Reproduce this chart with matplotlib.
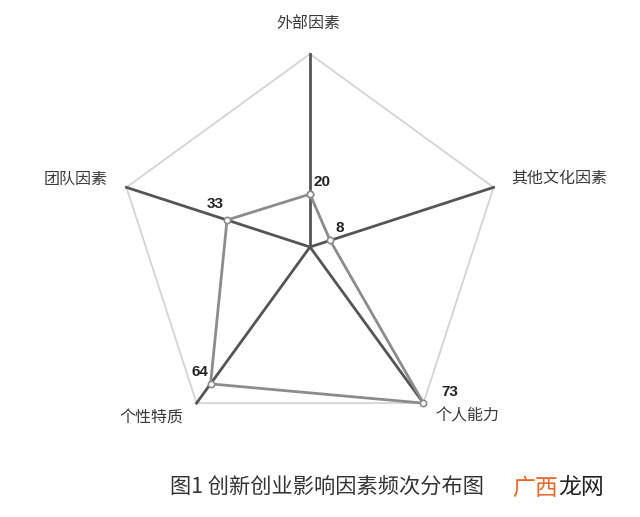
import numpy as np
import matplotlib
matplotlib.use("Agg")
import matplotlib.pyplot as plt

plt.rcParams['font.family'] = ['Noto Sans CJK SC', 'DejaVu Sans']

categories = ["外部因素", "其他文化因素", "个人能力", "个性特质", "团队因素"]
values = [20, 8, 73, 64, 33]
caption = "图1 创新创业影响因素频次分布图"
wm_orange = "广西"
wm_dark = "龙网"

n = len(categories)
angles = np.arange(n) * 2 * np.pi / n
rmax = max(values)

fig = plt.figure(figsize=(6.4, 5.17), dpi=100)
fig.patch.set_facecolor("white")
ax = fig.add_axes([117/640, 77/517, 386/640, 386/517], projection="polar")
ax.set_theta_zero_location("N")
ax.set_theta_direction(-1)
ax.set_ylim(0, rmax)
ax.set_axis_off()

# outer pentagon
ang_c = np.append(angles, angles[0])
ax.plot(ang_c, [rmax] * (n + 1), color="#d4d4d4", lw=1.3, clip_on=False, zorder=1)

# spokes
for a in angles:
    ax.plot([a, a], [0, rmax], color="#555555", lw=2.0, clip_on=False, zorder=2)

# data polygon
vals_c = values + values[:1]
ax.plot(ang_c, vals_c, color="#8c8c8c", lw=2.0, clip_on=False, zorder=3,
        marker="o", markersize=4.5, markerfacecolor="white",
        markeredgecolor="#8c8c8c", markeredgewidth=1.2)

# category labels (offsets in pixels relative to outer vertices)
cat_off = [(-2, 31, "center", "center"),
           (18, 8, "left", "center"),
           (12, -13, "left", "center"),
           (-13, -15, "right", "center"),
           (-19, 8, "right", "center")]
for a, lab, (dx, dy, ha, va) in zip(angles, categories, cat_off):
    ax.annotate(lab, xy=(a, rmax), xytext=(dx, dy), textcoords="offset pixels",
                ha=ha, va=va, fontsize=11.5, fontweight="medium", color="#3a3a3a",
                annotation_clip=False)

# value labels
val_off = [(4, 12, "left", "center"),
           (5, 12, "left", "center"),
           (18, 11, "left", "center"),
           (-2, 12, "right", "center"),
           (-3, 16, "right", "center")]
for a, v, (dx, dy, ha, va) in zip(angles, values, val_off):
    ax.annotate(str(v), xy=(a, v), xytext=(dx, dy), textcoords="offset pixels",
                ha=ha, va=va, fontsize=11, fontweight="bold", color="#222222",
                family=["Liberation Sans", "DejaVu Sans"], annotation_clip=False)

# caption and watermark
fig.text(170/640, 1 - 488/517, caption, ha="left", va="center",
         fontsize=15.3, color="#333333")
fig.text(512/640, 1 - 488/517, wm_orange, ha="left", va="center",
         fontsize=16.5, color="#e8692a")
fig.text(558/640, 1 - 488/517, wm_dark, ha="left", va="center",
         fontsize=16.5, color="#222222")

fig.savefig("out.png", dpi=100, facecolor="white")
